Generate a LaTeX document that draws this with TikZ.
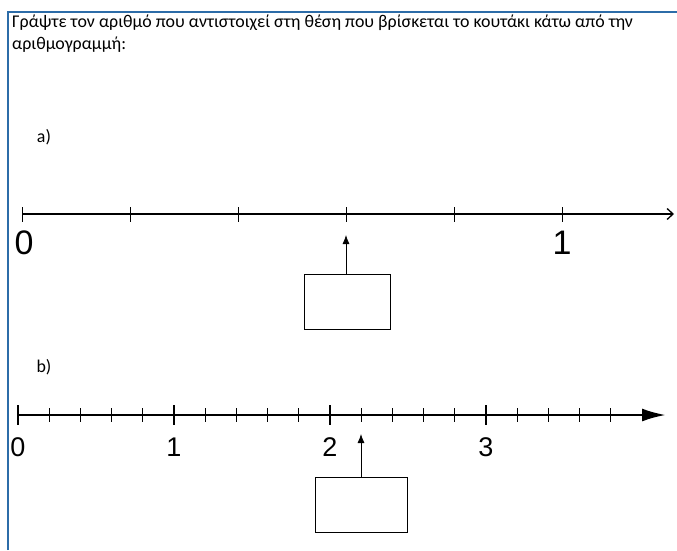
\documentclass[tikz,border=0pt]{standalone}
\usepackage{fontspec}
\setmainfont{Carlito}
\newfontfamily\numfont{Liberation Sans}
\usetikzlibrary{arrows.meta,positioning}
\tikzset{>=latex}
\definecolor{frameblue}{RGB}{44,108,168}
\tikzset{
  answerbox/.style={draw, thick, minimum width=86, minimum height=55, inner sep=0pt},
  tasktext/.style={font=\fontsize{17.9}{21.5}\selectfont, inner sep=0pt},
  bignum/.style={font=\numfont\fontsize{34}{34}\selectfont, inner sep=0pt},
  midnum/.style={font=\numfont\fontsize{27}{27}\selectfont, inner sep=0pt},
  pointer/.style={thick, -{Latex[length=9pt, width=7pt]}},
}

\begin{document}
\begin{tikzpicture}[x=1pt, y=-1pt]
  \useasboundingbox (0,0) rectangle (677,550);
  % frame of the exercise
  \draw[frameblue, line width=2pt] (8,550) -- (8,12) -- (677,12);
  \node[tasktext, anchor=north west, align=left] (task) at (12,15)
    {Γράψτε τον αριθμό που αντιστοιχεί στη θέση που βρίσκεται το κουτάκι κάτω από την\\
     αριθμογραμμή:};

  % part a)
  \node[tasktext] (parta) at (44,137) {a)};
  \draw[line width=1.3pt, -{Straight Barb[length=6pt, width=11pt]}] (22,214) -- (674,214);
  \foreach \k in {0,...,5}
    \draw[line width=0.9pt] (22+108*\k,207) -- (22+108*\k,222);
  \node[bignum] (zeroa) at (24,243) {0};
  \node[bignum] (onea) at (562,243) {1};
  \coordinate (targeta) at (346,235);
  \node[answerbox] (boxa) at (347,301.5) {};
  \draw[pointer] (boxa.north -| targeta) -- (targeta);

  % part b)
  \node[tasktext] (partb) at (44,367) {b)};
  \draw[line width=2.6pt, -{Latex[length=24pt, width=13pt]}] (18,415) -- (666,415);
  \foreach \k in {1,...,19}
    \draw[line width=0.8pt] (18+31.2*\k,408) -- (18+31.2*\k,422);
  \foreach \k/\lbl in {0/0,1/1,2/2,3/3} {
    \draw[line width=2.6pt] (18+156*\k,405) -- (18+156*\k,425);
    \node[midnum] (num\lbl) at (18+156*\k,447) {\lbl};
  }
  \coordinate (targetb) at (361,434);
  \node[answerbox, minimum width=92] (boxb) at (361,504.5) {};
  \draw[pointer] (boxb.north -| targetb) -- (targetb);
\end{tikzpicture}
\end{document}
